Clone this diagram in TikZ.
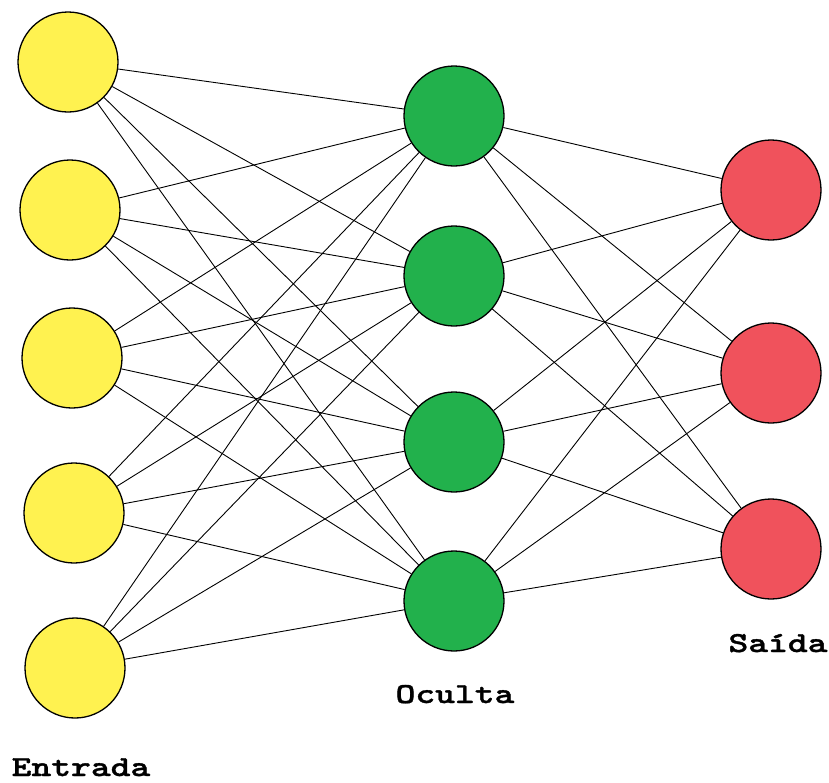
\documentclass[tikz,border=0pt]{standalone}
\usepackage{fontspec}
\newfontfamily\labelfont{lmmonolt10-bold.otf}[FakeBold=1.2,FakeStretch=1.3]
\begin{document}
\begin{tikzpicture}[x=1pt,y=-1pt,
  neuron/.style={circle,draw=black,line width=1.3pt,inner sep=0pt,minimum size=100pt},
  inlayer/.style={neuron,fill=inyellow},
  hidlayer/.style={neuron,fill=hidgreen},
  outlayer/.style={neuron,fill=outred},
  link/.style={draw=black,line width=0.9pt},
  layername/.style={font=\labelfont\fontsize{29}{34}\selectfont,
    inner sep=0pt,anchor=base}]
\definecolor{inyellow}{RGB}{255,242,80}
\definecolor{hidgreen}{RGB}{34,177,76}
\definecolor{outred}{RGB}{240,82,92}
\useasboundingbox (0,0) rectangle (829,782);
% input layer
\node[inlayer] (i1) at (68,62) {};
\node[inlayer] (i2) at (70,210) {};
\node[inlayer] (i3) at (72,358) {};
\node[inlayer] (i4) at (74,513) {};
\node[inlayer] (i5) at (75,668) {};
% hidden layer
\node[hidlayer] (h1) at (454,116) {};
\node[hidlayer] (h2) at (454,276) {};
\node[hidlayer] (h3) at (454,442) {};
\node[hidlayer] (h4) at (454,601) {};
% output layer
\node[outlayer] (o1) at (771,190) {};
\node[outlayer] (o2) at (771,373) {};
\node[outlayer] (o3) at (771,549) {};
% connections
\foreach \i in {1,...,5}
  \foreach \h in {1,...,4}
    \draw[link] (i\i) -- (h\h);
\foreach \h in {1,...,4}
  \foreach \o in {1,...,3}
    \draw[link] (h\h) -- (o\o);
% layer names
\node[layername] (tin) at (81,776) {Entrada};
\node[layername] (thid) at (455,703) {Oculta};
\node[layername] (tout) at (778,652) {Saída};
\end{tikzpicture}
\end{document}
